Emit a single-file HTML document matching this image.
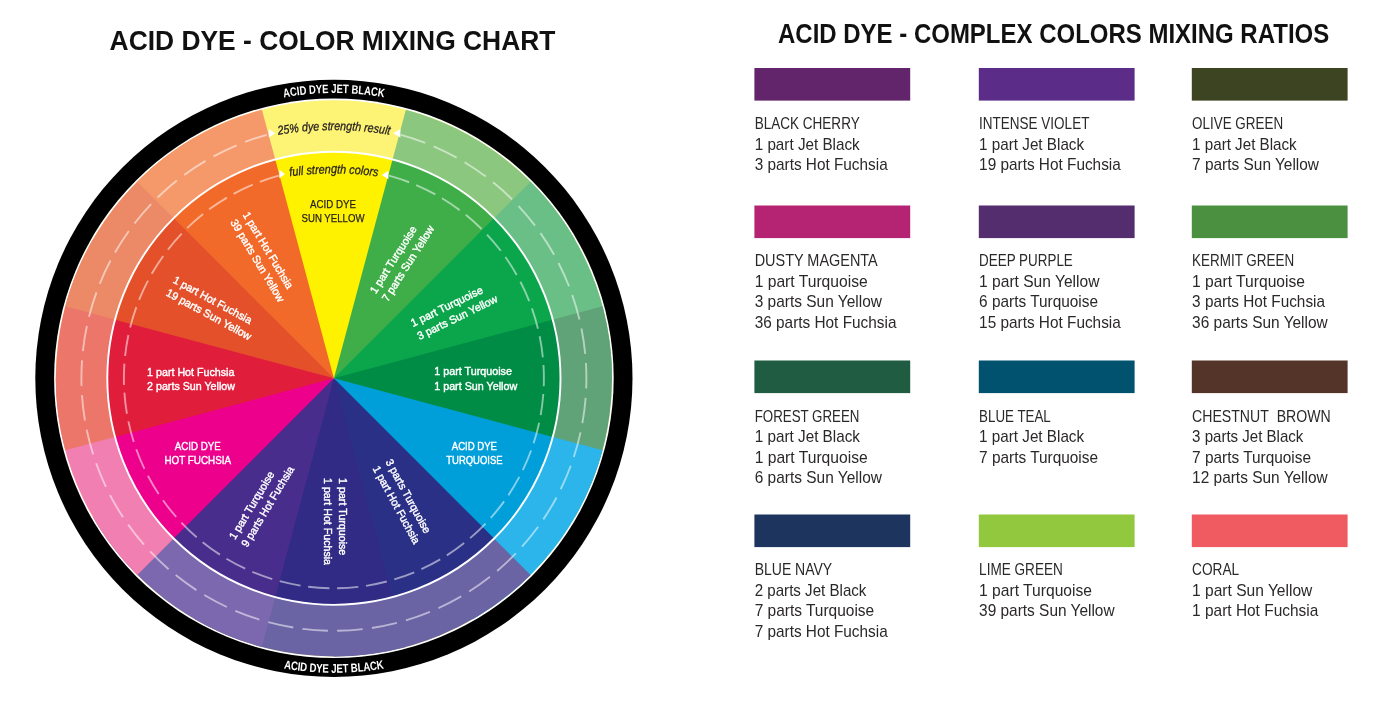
<!DOCTYPE html>
<html lang="en">
<head>
<meta charset="utf-8">
<title>Acid Dye - Color Mixing Chart</title>
<style>
html,body{margin:0;padding:0;background:#fff;}
body{width:1400px;height:720px;overflow:hidden;position:relative;font-family:"Liberation Sans",sans-serif;}
svg{position:absolute;left:0;top:0;display:block;}
text{font-family:"Liberation Sans",sans-serif;}
.t{font-weight:bold;fill:#111;}
.w{fill:#fff;font-size:11px;stroke:#fff;stroke-width:.4px;}
.k{fill:#231f20;font-size:11px;stroke:#231f20;stroke-width:.25px;}
.i{fill:#231f20;font-size:12.4px;font-style:italic;stroke:#231f20;stroke-width:.3px;}
.r{fill:#fff;font-size:12.2px;font-weight:bold;}
.n{fill:#2b2829;font-size:17px;}
</style>
</head>
<body>
<svg width="1400" height="720" viewBox="0 0 1400 720">

<text class="t" x="109.6" y="50" font-size="28.4" textLength="445.8" lengthAdjust="spacingAndGlyphs">ACID DYE - COLOR MIXING CHART</text>
<text class="t" x="778" y="43.3" font-size="26.9" textLength="551.2" lengthAdjust="spacingAndGlyphs">ACID DYE - COMPLEX COLORS MIXING RATIOS</text>
<circle cx="333.9" cy="378.3" r="298.6" fill="#000"/>
<circle cx="333.9" cy="378.3" r="279.8" fill="#fff"/>
<g>
<circle cx="333.9" cy="378.3" r="278.1" fill="#FDF374"/>
<path d="M333.90,378.30L405.88,109.68A278.1,278.1 0 0 1 574.74,239.25Z" fill="#8CC77F"/>
<path d="M333.90,378.30L530.55,181.65A278.1,278.1 0 0 1 612.00,378.30Z" fill="#6ABF87"/>
<path d="M333.90,378.30L602.52,306.32A278.1,278.1 0 0 1 574.74,517.35Z" fill="#61A378"/>
<path d="M333.90,378.30L602.52,450.28A278.1,278.1 0 0 1 472.95,619.14Z" fill="#2BB5EA"/>
<path d="M333.90,378.30L530.55,574.95A278.1,278.1 0 0 1 333.90,656.40Z" fill="#6A64A4"/>
<path d="M333.90,378.30L405.88,646.92A278.1,278.1 0 0 1 194.85,619.14Z" fill="#6A64A4"/>
<path d="M333.90,378.30L261.92,646.92A278.1,278.1 0 0 1 93.06,517.35Z" fill="#7B68AE"/>
<path d="M333.90,378.30L137.25,574.95A278.1,278.1 0 0 1 55.80,378.30Z" fill="#F17FB2"/>
<path d="M333.90,378.30L65.28,450.28A278.1,278.1 0 0 1 93.06,239.25Z" fill="#EC7669"/>
<path d="M333.90,378.30L65.28,306.32A278.1,278.1 0 0 1 194.85,137.46Z" fill="#EC8A67"/>
<path d="M333.90,378.30L137.25,181.65A278.1,278.1 0 0 1 261.92,109.68Z" fill="#F5996B"/>
<circle cx="333.9" cy="378.3" r="226.6" fill="#FFF200"/>
<path d="M333.90,378.30L392.55,159.42A226.6,226.6 0 0 1 530.14,265.00Z" fill="#3FAE49"/>
<path d="M333.90,378.30L494.13,218.07A226.6,226.6 0 0 1 560.50,378.30Z" fill="#0BA54B"/>
<path d="M333.90,378.30L552.78,319.65A226.6,226.6 0 0 1 530.14,491.60Z" fill="#008C45"/>
<path d="M333.90,378.30L552.78,436.95A226.6,226.6 0 0 1 447.20,574.54Z" fill="#009FDA"/>
<path d="M333.90,378.30L494.13,538.53A226.6,226.6 0 0 1 333.90,604.90Z" fill="#2B3087"/>
<path d="M333.90,378.30L392.55,597.18A226.6,226.6 0 0 1 220.60,574.54Z" fill="#312B85"/>
<path d="M333.90,378.30L275.25,597.18A226.6,226.6 0 0 1 137.66,491.60Z" fill="#482D8C"/>
<path d="M333.90,378.30L173.67,538.53A226.6,226.6 0 0 1 107.30,378.30Z" fill="#EC008C"/>
<path d="M333.90,378.30L115.02,436.95A226.6,226.6 0 0 1 137.66,265.00Z" fill="#E11D3C"/>
<path d="M333.90,378.30L115.02,319.65A226.6,226.6 0 0 1 220.60,182.06Z" fill="#E4502A"/>
<path d="M333.90,378.30L173.67,218.07A226.6,226.6 0 0 1 275.25,159.42Z" fill="#F26A2A"/>
</g>
<circle cx="333.9" cy="378.3" r="226.6" fill="none" stroke="#fff" stroke-width="1.9"/>
<path d="M400.95,134.87A252.5,252.5 0 1 1 266.85,134.87" fill="none" stroke="#fff" stroke-opacity="0.52" stroke-width="1.9" stroke-dasharray="25.56 9.25"/>
<path d="M388.96,175.65A210.0,210.0 0 1 1 278.84,175.65" fill="none" stroke="#fff" stroke-opacity="0.52" stroke-width="1.9" stroke-dasharray="21.26 7.7"/>
<path d="M275.3,133.3L268.9,129.0L268.9,137.60000000000002Z" fill="#fff"/>
<path d="M393.1,133.3L400.4,129.0L400.4,137.60000000000002Z" fill="#fff"/>
<path d="M285.0,174.0L279.4,169.8L279.4,178.2Z" fill="#fff"/>
<path d="M381.8,175.0L388.4,170.8L388.4,179.2Z" fill="#fff"/>
<defs>
<path id="pTop" d="M150.51,159.75A285.3,285.3 0 0 1 517.29,159.75" fill="none"/>
<path id="pBot" d="M144.66,603.82A294.4,294.4 0 0 0 523.14,603.82" fill="none"/>
<path id="p25" d="M253.90,139.94A330,330 0 0 1 413.90,139.94" fill="none"/>
<path id="pFull" d="M263.90,180.91A330,330 0 0 1 403.90,180.91" fill="none"/>
</defs>
<text class="r" text-anchor="middle" textLength="100.5" lengthAdjust="spacingAndGlyphs"><textPath href="#pTop" startOffset="50%" textLength="101.2" lengthAdjust="spacingAndGlyphs">ACID DYE JET BLACK</textPath></text>
<text class="r" text-anchor="middle" textLength="100.5" lengthAdjust="spacingAndGlyphs"><textPath href="#pBot" startOffset="50%" textLength="102.8" lengthAdjust="spacingAndGlyphs">ACID DYE JET BLACK</textPath></text>
<text class="i" text-anchor="middle"><textPath href="#p25" startOffset="50%" textLength="112" lengthAdjust="spacingAndGlyphs">25% dye strength result</textPath></text>
<text class="i" text-anchor="middle"><textPath href="#pFull" startOffset="50%" textLength="88.3" lengthAdjust="spacingAndGlyphs">full strength colors</textPath></text>
<g transform="translate(333.0,207.6) rotate(0)"><text class="k" x="0" y="0.0" text-anchor="middle" textLength="46" lengthAdjust="spacingAndGlyphs">ACID DYE</text><text class="k" x="0" y="14.0" text-anchor="middle" textLength="62.9" lengthAdjust="spacingAndGlyphs">SUN YELLOW</text></g>
<g transform="translate(394.0,260.2) rotate(-57.5)"><text class="w" x="-38.75" y="2.9" textLength="77.5" lengthAdjust="spacingAndGlyphs">1 part Turquoise</text><text class="w" x="-38.75" y="17.3" textLength="87.4" lengthAdjust="spacingAndGlyphs">7 parts Sun Yellow</text></g>
<g transform="translate(447.2,307.2) rotate(-26)"><text class="w" x="-39.40" y="2.9" textLength="78.8" lengthAdjust="spacingAndGlyphs">1 part Turquoise</text><text class="w" x="-39.40" y="17.3" textLength="88" lengthAdjust="spacingAndGlyphs">3 parts Sun Yellow</text></g>
<g transform="translate(434.2,375.3) rotate(0)"><text class="w" x="0" y="0.0" text-anchor="start" textLength="77.8" lengthAdjust="spacingAndGlyphs">1 part Turquoise</text><text class="w" x="0" y="14.4" text-anchor="start" textLength="83" lengthAdjust="spacingAndGlyphs">1 part Sun Yellow</text></g>
<g transform="translate(474.4,450) rotate(0)"><text class="w" x="0" y="0.0" text-anchor="middle" textLength="45.25" lengthAdjust="spacingAndGlyphs">ACID DYE</text><text class="w" x="0" y="13.8" text-anchor="middle" textLength="56.25" lengthAdjust="spacingAndGlyphs">TURQUOISE</text></g>
<g transform="translate(407.4,496.6) rotate(61.5)"><text class="w" x="-41.25" y="2.9" textLength="82.5" lengthAdjust="spacingAndGlyphs">3 parts Turquoise</text><text class="w" x="-41.25" y="17.3" textLength="86.7" lengthAdjust="spacingAndGlyphs">1 part Hot Fuchsia</text></g>
<g transform="translate(341.6,516.65) rotate(90)"><text class="w" x="-38.65" y="2.9" textLength="77.3" lengthAdjust="spacingAndGlyphs">1 part Turquoise</text><text class="w" x="-38.65" y="17.4" textLength="87" lengthAdjust="spacingAndGlyphs">1 part Hot Fuchsia</text></g>
<g transform="translate(252.4,505.7) rotate(-59)"><text class="w" x="-38.65" y="2.9" textLength="77.3" lengthAdjust="spacingAndGlyphs">1 part Turquoise</text><text class="w" x="-38.65" y="17.3" textLength="91.7" lengthAdjust="spacingAndGlyphs">9 parts Hot Fuchsia</text></g>
<g transform="translate(197.8,450.4) rotate(0)"><text class="w" x="0" y="0.0" text-anchor="middle" textLength="46" lengthAdjust="spacingAndGlyphs">ACID DYE</text><text class="w" x="0" y="13.8" text-anchor="middle" textLength="66.7" lengthAdjust="spacingAndGlyphs">HOT FUCHSIA</text></g>
<g transform="translate(147.1,375.6) rotate(0)"><text class="w" x="0" y="0.0" text-anchor="start" textLength="87.3" lengthAdjust="spacingAndGlyphs">1 part Hot Fuchsia</text><text class="w" x="0" y="14.4" text-anchor="start" textLength="87.8" lengthAdjust="spacingAndGlyphs">2 parts Sun Yellow</text></g>
<g transform="translate(212.2,300.8) rotate(28.5)"><text class="w" x="-44.00" y="2.9" textLength="88" lengthAdjust="spacingAndGlyphs">1 part Hot Fuchsia</text><text class="w" x="-44.00" y="17.3" textLength="95.2" lengthAdjust="spacingAndGlyphs">19 parts Sun Yellow</text></g>
<g transform="translate(267.4,250.7) rotate(59)"><text class="w" x="-43.65" y="2.9" textLength="87.3" lengthAdjust="spacingAndGlyphs">1 part Hot Fuchsia</text><text class="w" x="-43.65" y="17.3" textLength="94" lengthAdjust="spacingAndGlyphs">39 parts Sun Yellow</text></g>
<rect x="754.4" y="68.0" width="155.8" height="32.6" fill="#62246A"/>
<text class="n" x="754.7" y="129.25" textLength="105" lengthAdjust="spacingAndGlyphs" xml:space="preserve">BLACK CHERRY</text>
<text class="n" x="754.7" y="149.70" textLength="105" lengthAdjust="spacingAndGlyphs" xml:space="preserve">1 part Jet Black</text>
<text class="n" x="754.7" y="170.15" textLength="133" lengthAdjust="spacingAndGlyphs" xml:space="preserve">3 parts Hot Fuchsia</text>
<rect x="978.8" y="68.0" width="155.8" height="32.6" fill="#5B2D88"/>
<text class="n" x="979.1" y="129.25" textLength="110.3" lengthAdjust="spacingAndGlyphs" xml:space="preserve">INTENSE VIOLET</text>
<text class="n" x="979.1" y="149.70" textLength="105" lengthAdjust="spacingAndGlyphs" xml:space="preserve">1 part Jet Black</text>
<text class="n" x="979.1" y="170.15" textLength="141.7" lengthAdjust="spacingAndGlyphs" xml:space="preserve">19 parts Hot Fuchsia</text>
<rect x="1191.8" y="68.0" width="155.8" height="32.6" fill="#3D4421"/>
<text class="n" x="1192.1" y="129.25" textLength="91" lengthAdjust="spacingAndGlyphs" xml:space="preserve">OLIVE GREEN</text>
<text class="n" x="1192.1" y="149.70" textLength="104.6" lengthAdjust="spacingAndGlyphs" xml:space="preserve">1 part Jet Black</text>
<text class="n" x="1192.1" y="170.15" textLength="126.9" lengthAdjust="spacingAndGlyphs" xml:space="preserve">7 parts Sun Yellow</text>
<rect x="754.4" y="205.5" width="155.8" height="32.6" fill="#B52472"/>
<text class="n" x="754.7" y="266.25" textLength="123" lengthAdjust="spacingAndGlyphs" xml:space="preserve">DUSTY MAGENTA</text>
<text class="n" x="754.7" y="286.70" textLength="113" lengthAdjust="spacingAndGlyphs" xml:space="preserve">1 part Turquoise</text>
<text class="n" x="754.7" y="307.15" textLength="127.25" lengthAdjust="spacingAndGlyphs" xml:space="preserve">3 parts Sun Yellow</text>
<text class="n" x="754.7" y="327.60" textLength="141.75" lengthAdjust="spacingAndGlyphs" xml:space="preserve">36 parts Hot Fuchsia</text>
<rect x="978.8" y="205.5" width="155.8" height="32.6" fill="#532D6D"/>
<text class="n" x="979.1" y="266.25" textLength="93.7" lengthAdjust="spacingAndGlyphs" xml:space="preserve">DEEP PURPLE</text>
<text class="n" x="979.1" y="286.70" textLength="120.3" lengthAdjust="spacingAndGlyphs" xml:space="preserve">1 part Sun Yellow</text>
<text class="n" x="979.1" y="307.15" textLength="118.9" lengthAdjust="spacingAndGlyphs" xml:space="preserve">6 parts Turquoise</text>
<text class="n" x="979.1" y="327.60" textLength="141.7" lengthAdjust="spacingAndGlyphs" xml:space="preserve">15 parts Hot Fuchsia</text>
<rect x="1191.8" y="205.5" width="155.8" height="32.6" fill="#4B8F41"/>
<text class="n" x="1192.1" y="266.25" textLength="102" lengthAdjust="spacingAndGlyphs" xml:space="preserve">KERMIT GREEN</text>
<text class="n" x="1192.1" y="286.70" textLength="112.9" lengthAdjust="spacingAndGlyphs" xml:space="preserve">1 part Turquoise</text>
<text class="n" x="1192.1" y="307.15" textLength="132.9" lengthAdjust="spacingAndGlyphs" xml:space="preserve">3 parts Hot Fuchsia</text>
<text class="n" x="1192.1" y="327.60" textLength="135.6" lengthAdjust="spacingAndGlyphs" xml:space="preserve">36 parts Sun Yellow</text>
<rect x="754.4" y="360.5" width="155.8" height="32.6" fill="#1F5C41"/>
<text class="n" x="754.7" y="421.75" textLength="104.75" lengthAdjust="spacingAndGlyphs" xml:space="preserve">FOREST GREEN</text>
<text class="n" x="754.7" y="442.20" textLength="105.3" lengthAdjust="spacingAndGlyphs" xml:space="preserve">1 part Jet Black</text>
<text class="n" x="754.7" y="462.65" textLength="113" lengthAdjust="spacingAndGlyphs" xml:space="preserve">1 part Turquoise</text>
<text class="n" x="754.7" y="483.10" textLength="127.25" lengthAdjust="spacingAndGlyphs" xml:space="preserve">6 parts Sun Yellow</text>
<rect x="978.8" y="360.5" width="155.8" height="32.6" fill="#00526F"/>
<text class="n" x="979.1" y="421.75" textLength="71.7" lengthAdjust="spacingAndGlyphs" xml:space="preserve">BLUE TEAL</text>
<text class="n" x="979.1" y="442.20" textLength="105" lengthAdjust="spacingAndGlyphs" xml:space="preserve">1 part Jet Black</text>
<text class="n" x="979.1" y="462.65" textLength="118.9" lengthAdjust="spacingAndGlyphs" xml:space="preserve">7 parts Turquoise</text>
<rect x="1191.8" y="360.5" width="155.8" height="32.6" fill="#543429"/>
<text class="n" x="1192.1" y="421.75" textLength="138.6" lengthAdjust="spacingAndGlyphs" xml:space="preserve">CHESTNUT&#160; BROWN</text>
<text class="n" x="1192.1" y="442.20" textLength="111.3" lengthAdjust="spacingAndGlyphs" xml:space="preserve">3 parts Jet Black</text>
<text class="n" x="1192.1" y="462.65" textLength="118.9" lengthAdjust="spacingAndGlyphs" xml:space="preserve">7 parts Turquoise</text>
<text class="n" x="1192.1" y="483.10" textLength="135.6" lengthAdjust="spacingAndGlyphs" xml:space="preserve">12 parts Sun Yellow</text>
<rect x="754.4" y="514.5" width="155.8" height="32.6" fill="#1D345E"/>
<text class="n" x="754.7" y="575.25" textLength="77.5" lengthAdjust="spacingAndGlyphs" xml:space="preserve">BLUE NAVY</text>
<text class="n" x="754.7" y="595.70" textLength="111.75" lengthAdjust="spacingAndGlyphs" xml:space="preserve">2 parts Jet Black</text>
<text class="n" x="754.7" y="616.15" textLength="119.5" lengthAdjust="spacingAndGlyphs" xml:space="preserve">7 parts Turquoise</text>
<text class="n" x="754.7" y="636.60" textLength="133" lengthAdjust="spacingAndGlyphs" xml:space="preserve">7 parts Hot Fuchsia</text>
<rect x="978.8" y="514.5" width="155.8" height="32.6" fill="#92C83E"/>
<text class="n" x="979.1" y="575.25" textLength="83.7" lengthAdjust="spacingAndGlyphs" xml:space="preserve">LIME GREEN</text>
<text class="n" x="979.1" y="595.70" textLength="112.9" lengthAdjust="spacingAndGlyphs" xml:space="preserve">1 part Turquoise</text>
<text class="n" x="979.1" y="616.15" textLength="135.5" lengthAdjust="spacingAndGlyphs" xml:space="preserve">39 parts Sun Yellow</text>
<rect x="1191.8" y="514.5" width="155.8" height="32.6" fill="#EF5B60"/>
<text class="n" x="1192.1" y="575.25" textLength="47" lengthAdjust="spacingAndGlyphs" xml:space="preserve">CORAL</text>
<text class="n" x="1192.1" y="595.70" textLength="120.2" lengthAdjust="spacingAndGlyphs" xml:space="preserve">1 part Sun Yellow</text>
<text class="n" x="1192.1" y="616.15" textLength="126.2" lengthAdjust="spacingAndGlyphs" xml:space="preserve">1 part Hot Fuchsia</text>
</svg>
</body>
</html>
